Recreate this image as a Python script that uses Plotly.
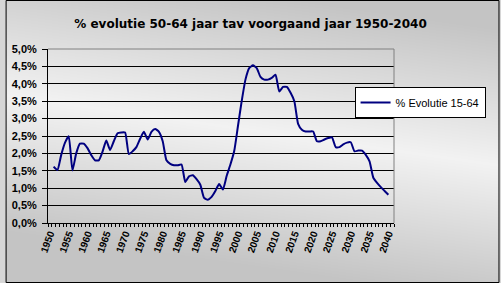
import base64
import struct
import zlib

import plotly.graph_objects as go

years = list(range(1951, 2041))
values = [
    1.62, 1.52, 1.95, 2.30, 2.49, 1.51, 2.00, 2.28, 2.28, 2.15,   # 1951-1960
    1.95, 1.80, 1.80, 2.05, 2.37, 2.10, 2.35, 2.58, 2.60, 2.60,   # 1961-1970
    1.98, 2.06, 2.18, 2.42, 2.62, 2.40, 2.62, 2.70, 2.62, 2.35,   # 1971-1980
    1.80, 1.70, 1.66, 1.66, 1.68, 1.18, 1.34, 1.37, 1.26, 1.10,   # 1981-1990
    0.72, 0.67, 0.75, 0.92, 1.12, 0.96, 1.35, 1.68, 2.06, 2.78,   # 1991-2000
    3.50, 4.12, 4.45, 4.53, 4.45, 4.20, 4.12, 4.12, 4.17, 4.26,   # 2001-2010
    3.78, 3.91, 3.91, 3.74, 3.50, 2.85, 2.68, 2.63, 2.63, 2.63,   # 2011-2020
    2.35, 2.35, 2.40, 2.44, 2.46, 2.18, 2.18, 2.26, 2.31, 2.32,   # 2021-2030
    2.06, 2.08, 2.08, 1.96, 1.77, 1.30, 1.15, 1.03, 0.92, 0.81,   # 2031-2040
]
x_tick_labels = [str(y) for y in range(1950, 2041, 5)]
y_tick_values = [i * 0.5 for i in range(11)]

title_text = "% evolutie 50-64 jaar tav voorgaand jaar 1950-2040"
series_name = "% Evolutie 15-64"

W, H = 501, 283
ML, MR, MT, MB = 43, 107, 49, 60
pw, ph = W - ML - MR, H - MT - MB


def gradient_png(w, h):
    """Diagonal grey band background (decoration only)."""
    light, dark, reach = 242, 196, 135.0
    x0, y0, x1, y1 = 0.0, 95.0, float(w), 165.0
    dx, dy = x1 - x0, y1 - y0
    norm = (dx * dx + dy * dy) ** 0.5
    raw = bytearray()
    for j in range(h):
        raw.append(0)
        for i in range(w):
            dist = abs((i - x0) * dy - (j - y0) * dx) / norm
            t = min(1.0, dist / reach)
            raw.append(int(round(light - (light - dark) * t)))
    def chunk(tag, data):
        c = struct.pack(">I", len(data)) + tag + data
        return c + struct.pack(">I", zlib.crc32(tag + data) & 0xFFFFFFFF)
    png = b"\x89PNG\r\n\x1a\n"
    png += chunk(b"IHDR", struct.pack(">IIBBBBB", w, h, 8, 0, 0, 0, 0))
    png += chunk(b"IDAT", zlib.compress(bytes(raw), 9))
    png += chunk(b"IEND", b"")
    return "data:image/png;base64," + base64.b64encode(png).decode()


fig = go.Figure()
fig.add_trace(go.Scatter(
    x=years, y=values, mode="lines", name=series_name,
    line=dict(color="#000080", width=2, shape="spline", smoothing=0.5),
))

fig.update_layout(
    width=W, height=H,
    margin=dict(l=ML, r=MR, t=MT, b=MB, pad=0),
    paper_bgcolor="#d6d6d6",
    plot_bgcolor="#c0c0c0",
    separators=",.",
    font=dict(family="Liberation Sans, Arial, sans-serif", color="black"),
    title=dict(text="<b>" + title_text + "</b>", x=0.5, xanchor="center",
               y=1 - 24 / H, yanchor="middle",
               font=dict(size=12, family="DejaVu Sans, sans-serif")),
    showlegend=True,
    legend=dict(x=(354 - ML) / pw, y=(223 - 87) / ph, xanchor="left", yanchor="top",
                bgcolor="white", bordercolor="black", borderwidth=1,
                font=dict(size=11), itemwidth=30,
                tracegroupgap=0),
    xaxis=dict(
        range=[1949.5, 2041.5], tickmode="array",
        tickvals=[int(t) for t in x_tick_labels], ticktext=["<b>" + t + "</b>" for t in x_tick_labels],
        tickangle=-70, tickfont=dict(size=10), ticks="",
        showgrid=False, zeroline=False,
        showline=True, linecolor="black", linewidth=1,
        minor=dict(tickmode="linear", tick0=1949.5, dtick=1, ticks="outside",
                   ticklen=3, tickcolor="black", showgrid=False),
    ),
    yaxis=dict(
        range=[0, 5], tickmode="array", tickvals=y_tick_values,
        ticktext=["<b>" + f"{v:.1f}".replace(".", ",") + "%</b>" for v in y_tick_values],
        tickfont=dict(size=11), ticks="outside", ticklen=5, tickcolor="black",
        ticklabelstandoff=3,
        showgrid=True, gridcolor="black", gridwidth=1, zeroline=False,
        showline=True, linecolor="black", linewidth=1,
    ),
    images=[dict(
        source=gradient_png(W, H), xref="paper", yref="paper",
        x=-ML / pw, y=1 + MT / ph, sizex=W / pw, sizey=H / ph,
        xanchor="left", yanchor="top", sizing="stretch", layer="below",
    )],
    shapes=[
        dict(type="line", xref="paper", yref="paper", x0=0, x1=1, y0=1, y1=1,
             line=dict(color="#808080", width=1)),
        dict(type="line", xref="paper", yref="paper", x0=1, x1=1, y0=0, y1=1,
             line=dict(color="#808080", width=1)),
        dict(type="rect", xref="paper", yref="paper",
             x0=-(ML - 0.5) / pw, x1=1 + (MR - 0.5) / pw,
             y0=-(MB - 0.5) / ph, y1=1 + (MT - 0.5) / ph,
             line=dict(color="black", width=1)),
    ],
)

fig.write_html("out.html")
